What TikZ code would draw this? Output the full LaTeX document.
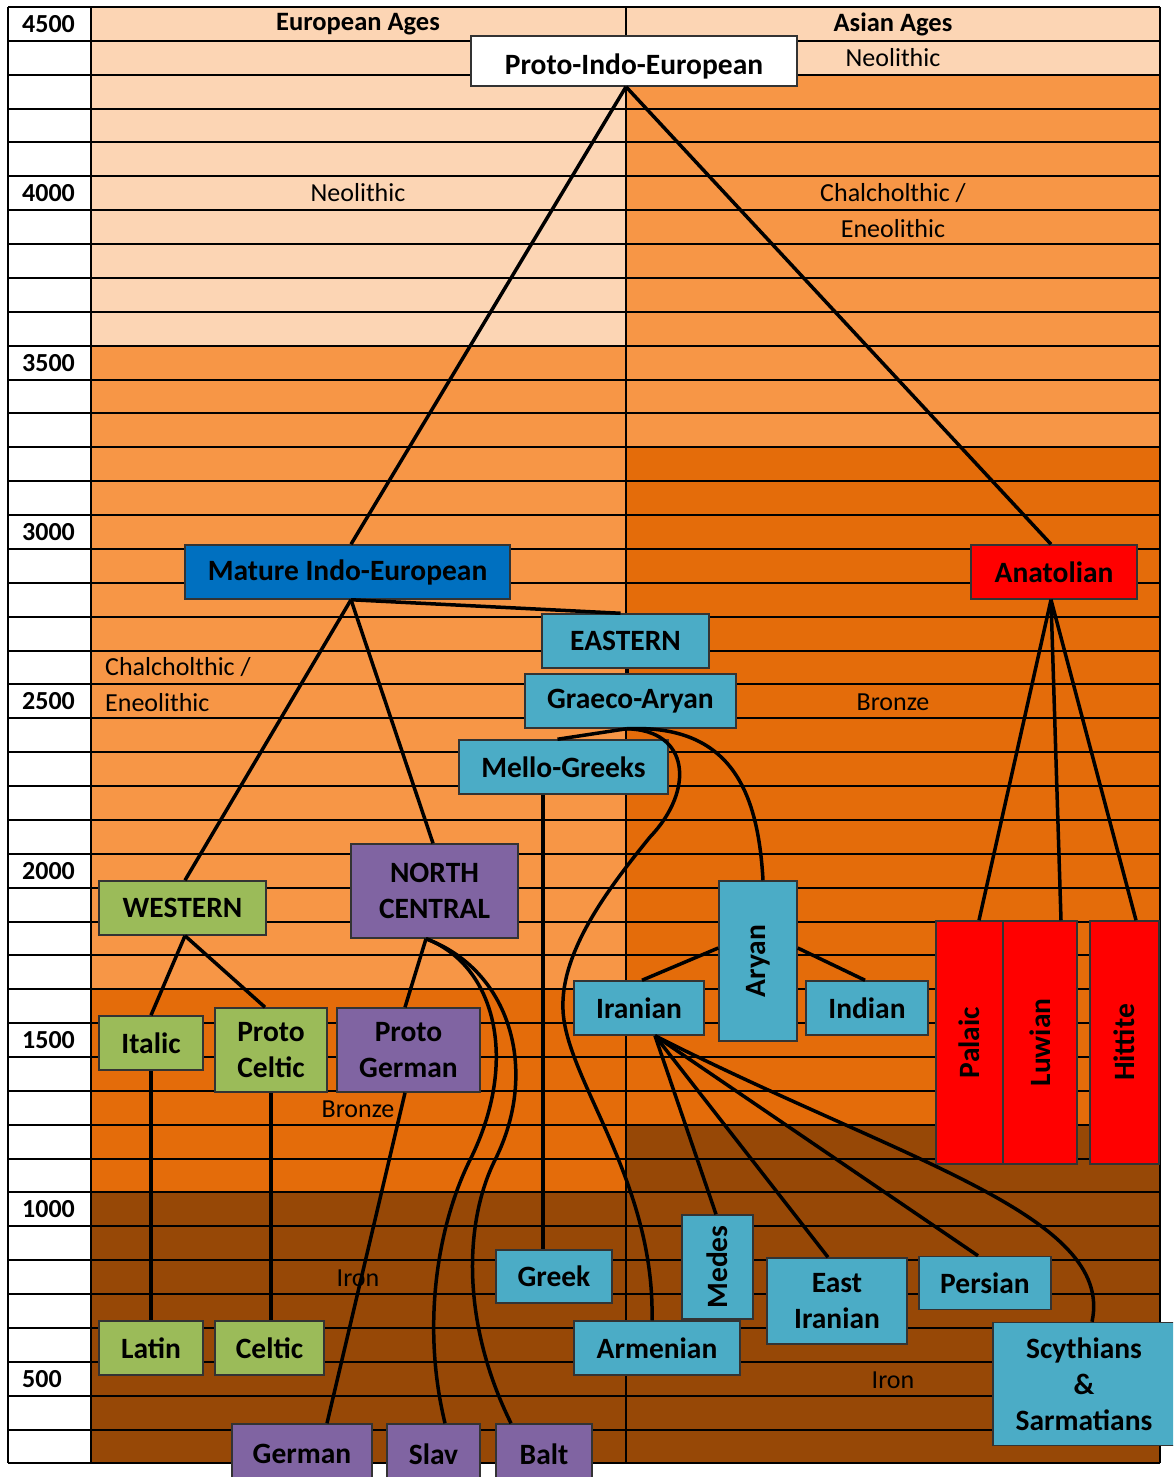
\documentclass[tikz,border=0pt]{standalone}
\usepackage{fontspec}
\setmainfont{Carlito}
\definecolor{peach}{HTML}{FCD5B4}
\definecolor{ageorange}{HTML}{F79646}
\definecolor{agedark}{HTML}{E46C0A}
\definecolor{agebrown}{HTML}{974806}
\definecolor{ieblue}{HTML}{0070C0}
\definecolor{ieteal}{HTML}{4BACC6}
\definecolor{iegreen}{HTML}{9BBB59}
\definecolor{iepurple}{HTML}{8064A2}
\def\rh{33.87}
\begin{document}
\begin{tikzpicture}[x=1pt, y=-1pt,
		font=\fontsize{26}{36}\selectfont,
		gridline/.style = {line width=2pt},
		lang/.style = {draw=black!80, line width=1.5pt, inner sep=0pt, align=center, font=\fontsize{29.5}{36}\selectfont\bfseries},
		rootbox/.style = {lang, fill=white},
		bluebox/.style = {lang, fill=ieblue},
		eastbox/.style = {lang, fill=ieteal},
		westbox/.style = {lang, fill=iegreen},
		northbox/.style = {lang, fill=iepurple},
		anatbox/.style = {lang, fill=red},
		yearlbl/.style = {anchor=west, inner sep=0pt, font=\fontsize{26}{36}\selectfont\bfseries},
		agelbl/.style = {inner sep=0pt},
		link/.style = {line width=3.5pt}
		]
		\clip (0,0) rectangle (1173,1477);
		\fill[white] (0,0) rectangle (1173,1477);
		% Ages
		\fill[peach] (91,7) rectangle (626,{7+\rh*10});
		\fill[ageorange] (91,{7+\rh*10}) rectangle (626,{7+\rh*29});
		\fill[agedark] (91,{7+\rh*29}) rectangle (626,{7+\rh*35});
		\fill[agebrown] (91,{7+\rh*35}) rectangle (626,{7+\rh*43});
		\fill[peach] (626,7) rectangle (1160,{7+\rh*2});
		\fill[ageorange] (626,{7+\rh*2}) rectangle (1160,{7+\rh*13});
		\fill[agedark] (626,{7+\rh*13}) rectangle (1160,{7+\rh*33});
		\fill[agebrown] (626,{7+\rh*33}) rectangle (1160,{7+\rh*43});
		% Grid
		\foreach \i in {0,...,43}
			\draw[gridline] (8,{7+\rh*\i}) -- (1160,{7+\rh*\i});
		\foreach \x in {8,91,626,1160}
			\draw[gridline] (\x,7) -- (\x,{7+\rh*43});
		\foreach \yr [count=\k from 0] in {4500,4000,3500,3000,2500,2000,1500,1000,500}
			\node[yearlbl] (yr\yr) at (22,{7+\rh*(5*\k+0.5)}) {\yr};
		\node[agelbl, font=\fontsize{26.5}{36}\selectfont\bfseries] (euhead) at (358,24) {European Ages};
		\node[agelbl, font=\fontsize{26.5}{36}\selectfont\bfseries] (ashead) at (893,24) {Asian Ages};
		\node[agelbl] (euneo) at (358,193) {Neolithic};
		\node[agelbl] (asneo) at (893,58) {Neolithic};
		\node[agelbl, align=center] (aschal) at (893,211) {Chalcholthic /\\Eneolithic};
		\node[agelbl, align=left, anchor=west] (euchal) at (105,685) {Chalcholthic /\\Eneolithic};
		\node[agelbl] (asbronze) at (893,702) {Bronze};
		\node[agelbl] (eubronze) at (358,1109) {Bronze};
		\node[agelbl] (euiron) at (358,1278) {Iron};
		\node[agelbl] (asiron) at (893,1380) {Iron};

		% Languages
		\node[rootbox, minimum width=326, minimum height=50] (pie) at (634,61) {\raisebox{-3pt}[\height][0pt]{Proto-Indo-European}};
		\node[bluebox, minimum width=325, minimum height=54] (mature) at (347.5,572) {Mature Indo-European};
		\node[anatbox, minimum width=166, minimum height=54] (anatolian) at (1054,572) {Anatolian};
		\node[eastbox, minimum width=167, minimum height=54] (eastern) at (625.5,641) {EASTERN};
		\node[eastbox, minimum width=211, minimum height=54] (graeco) at (630.5,701) {Graeco-Aryan};
		\node[eastbox, minimum width=209, minimum height=54] (mello) at (563.5,767) {Mello-Greeks};
		\node[westbox, minimum width=167, minimum height=54] (western) at (182.5,908) {WESTERN};
		\node[northbox, minimum width=167, minimum height=94] (north) at (434.5,891) {NORTH\\CENTRAL};
		\node[eastbox, minimum width=78, minimum height=160] (aryan) at (758,961) {\rotatebox{90}{Aryan}};
		\node[eastbox, minimum width=130, minimum height=54] (iranian) at (639,1008) {Iranian};
		\node[eastbox, minimum width=122, minimum height=54] (indian) at (867,1008) {Indian};
		\node[anatbox, minimum width=67, minimum height=243] (palaic) at (969.5,1042.5) {\rotatebox{90}{Palaic}};
		\node[anatbox, minimum width=74, minimum height=243] (luwian) at (1040,1042.5) {\rotatebox{90}{Luwian}};
		\node[anatbox, minimum width=69, minimum height=243] (hittite) at (1124.5,1042.5) {\rotatebox{90}{Hittite}};
		\node[westbox, minimum width=104, minimum height=54] (italic) at (151,1043) {Italic};
		\node[westbox, minimum width=112, minimum height=84] (pceltic) at (271,1050) {Proto\\Celtic};
		\node[northbox, minimum width=143, minimum height=84] (pgerman) at (408.5,1050) {Proto\\German};
		\node[eastbox, minimum width=116, minimum height=53] (greek) at (554,1276.5) {Greek};
		\node[eastbox, minimum width=71, minimum height=104] (medes) at (717.5,1267) {\rotatebox{90}{Medes}};
		\node[eastbox, minimum width=140, minimum height=86] (eiranian) at (837,1301) {East\\Iranian};
		\node[eastbox, minimum width=132, minimum height=53] (persian) at (985,1283) {Persian};
		\node[eastbox, minimum width=166, minimum height=54] (armenian) at (657,1348) {Armenian};
		\node[eastbox, minimum width=182, minimum height=123] (scythian) at (1084,1384) {Scythians\\\&\\Sarmatians};
		\node[westbox, minimum width=104, minimum height=54] (latin) at (151,1348) {Latin};
		\node[westbox, minimum width=109, minimum height=54] (celtic) at (269.5,1348) {Celtic};
		\node[northbox, minimum width=140, minimum height=60] (german) at (302,1454) {German};
		\node[northbox, minimum width=93, minimum height=60] (slav) at (433.5,1454) {Slav};
		\node[northbox, minimum width=96, minimum height=60] (balt) at (544,1454) {Balt};

		% Links
		\coordinate (ps) at ([xshift=-8pt]pie.south);
		\coordinate (ms) at ([xshift=3.5pt]mature.south);
		\coordinate (as) at ([xshift=-3pt]anatolian.south);
		\coordinate (gs) at ([xshift=-4pt]graeco.south);
		\coordinate (ws) at ([xshift=2.5pt]western.south);
		\coordinate (ns) at ([xshift=-8.5pt]north.south);
		\coordinate (is) at ([xshift=16pt]iranian.south);
		\draw[link] (ps) -- ([xshift=3.5pt]mature.north);
		\draw[link] (ps) -- ([xshift=-3pt]anatolian.north);
		\draw[link] (ms) -- ([xshift=-5pt]eastern.north);
		\draw[link] (ms) -- ([xshift=2.5pt]western.north);
		\draw[link] (ms) -- ([xshift=-1.5pt]north.north);
		\draw[link] ([xshift=1.5pt]eastern.south) -- ([xshift=-3.5pt]graeco.north);
		\draw[link] (gs) -- ([xshift=-6pt]mello.north);
		\draw[link] (gs) .. controls (730,724) and (758,790) .. ([xshift=5pt]aryan.north);
		\draw[link] (gs) .. controls (690,730) and (695,790) .. (650,837)
			.. controls (612,884) and (560,950) .. (563,1010)
			.. controls (566,1080) and (655,1180) .. ([xshift=-5pt]armenian.north);
		\draw[link] ([xshift=-20.5pt]mello.south) -- ([xshift=-11pt]greek.north);
		\draw[link] ([yshift=13pt]aryan.west) -- ([xshift=3pt]iranian.north);
		\draw[link] ([yshift=13pt]aryan.east) -- ([xshift=-2pt]indian.north);
		\draw[link] (is) -- ([xshift=-1.5pt]medes.north);
		\draw[link] (is) -- ([xshift=-9pt]eiranian.north);
		\draw[link] (is) -- ([xshift=-7pt]persian.north);
		\draw[link] (is) .. controls (900,1160) and (1115,1215) .. ([xshift=8pt]scythian.north);
		\draw[link] (as) -- ([xshift=9.5pt]palaic.north);
		\draw[link] (as) -- ([xshift=21pt]luwian.north);
		\draw[link] (as) -- ([xshift=11.5pt]hittite.north);
		\draw[link] (ws) -- (italic.north);
		\draw[link] (ws) -- ([xshift=-6pt]pceltic.north);
		\draw[link] (italic.south) -- (latin.north);
		\draw[link] (pceltic.south) -- ([xshift=1.5pt]celtic.north);
		\draw[link] (ns) -- ([xshift=-3.5pt]pgerman.north);
		\draw[link] ([xshift=-3.5pt]pgerman.south) -- ([xshift=25pt]german.north);
		\draw[link] (ns) .. controls (495,965) and (520,1060) .. (470,1160)
			.. controls (440,1220) and (420,1320) .. ([xshift=11.5pt]slav.north);
		\draw[link] (ns) .. controls (510,970) and (540,1070) .. (495,1160)
			.. controls (465,1220) and (460,1320) .. ([xshift=-33pt]balt.north);
	\end{tikzpicture}
\end{document}
